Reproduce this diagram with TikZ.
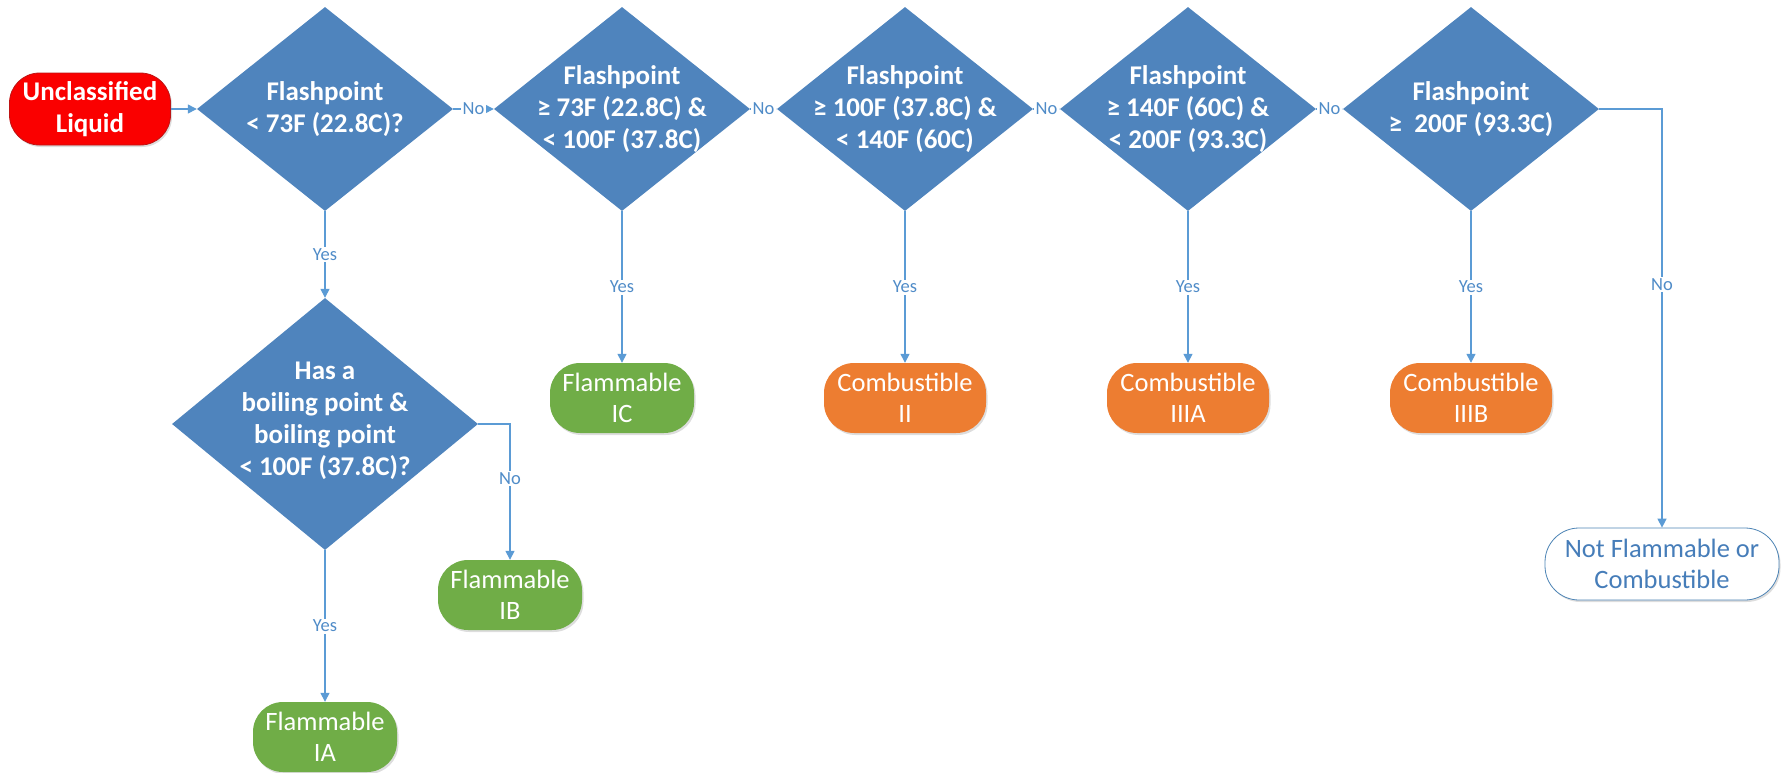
\documentclass[tikz,border=0pt]{standalone}
\usepackage{fontspec}
\setmainfont{Carlito}
\usetikzlibrary{arrows.meta,shadows,shapes.geometric}
\definecolor{diablue}{RGB}{79,132,189}
\definecolor{lineblue}{RGB}{91,155,213}
\definecolor{labblue}{RGB}{80,140,200}
\definecolor{lgreen}{RGB}{112,173,71}
\definecolor{lorange}{RGB}{237,125,49}
\definecolor{lred}{RGB}{250,0,0}
\definecolor{dred}{RGB}{190,20,20}
\definecolor{nftext}{RGB}{70,125,185}
\begin{document}
\begin{tikzpicture}[x=1pt,y=-1pt,
  dia/.style={shape=diamond, fill=diablue, inner sep=0pt, minimum width=256pt, minimum height=204pt},
  bigdia/.style={shape=diamond, fill=diablue, inner sep=0pt, minimum width=306pt, minimum height=252pt},
  dtext/.style={text=white, font=\bfseries\fontsize{27}{32}\selectfont, align=center, inner sep=0pt},
  term/.style={rounded corners=30pt, minimum height=70pt, inner sep=0pt, text=white, align=center,
    font=\fontsize{26.5}{31}\selectfont,
    drop shadow={opacity=0.22, shadow xshift=1.5pt, shadow yshift=-2pt, fill=black!60}},
  green/.style={term, fill=lgreen, minimum width=144pt},
  orange/.style={term, fill=lorange, minimum width=162pt},
  conn/.style={draw=lineblue, line width=1.4pt, -{Triangle[length=9pt,width=9pt]}},
  lab/.style={fill=white, text=labblue, font=\fontsize{18.5}{21}\selectfont, inner sep=1.5pt},
]
\useasboundingbox (0,0) rectangle (1786,772);

% start
\node[term, fill=lred, draw=dred, line width=0.8pt, minimum width=161pt, minimum height=72pt,
  font=\bfseries\fontsize{27}{32}\selectfont] (start) at (90,109) {Unclassified\\Liquid};

% decision diamonds
\node[dia] (d1) at (325,109) {};
\node[dtext] (t1) at (d1) {Flashpoint\\< 73F (22.8C)?};
\node[dia] (d2) at (622,109) {};
\node[dtext] (t2) at (d2) {Flashpoint\\≥ 73F (22.8C) \&\\< 100F (37.8C)};
\node[dia] (d3) at (905,109) {};
\node[dtext] (t3) at (d3) {Flashpoint\\≥ 100F (37.8C) \&\\< 140F (60C)};
\node[dia] (d4) at (1188,109) {};
\node[dtext] (t4) at (d4) {Flashpoint\\≥ 140F (60C) \&\\< 200F (93.3C)};
\node[dia] (d5) at (1471,109) {};
\node[dtext] (t5) at (d5) {Flashpoint\\≥~~200F (93.3C)};
\node[bigdia] (d6) at (325,424) {};
\node[dtext] (t6) at ([yshift=3pt]d6) {Has a\\boiling point \&\\boiling point\\< 100F (37.8C)?};

% results
\node[green] (ic) at (622,398) {Flammable\\IC};
\node[orange] (c2) at (905,398) {Combustible\\II};
\node[orange] (c3a) at (1188,398) {Combustible\\IIIA};
\node[orange] (c3b) at (1471,398) {Combustible\\IIIB};
\node[green] (ib) at (510,595) {Flammable\\IB};
\node[green] (ia) at (325,737) {Flammable\\IA};
\node[term, fill=white, draw=lineblue!85!black, line width=0.8pt, text=nftext,
  minimum width=234pt, minimum height=72pt, rounded corners=34pt, drop shadow={opacity=0}] (nf) at (1662,564)
  {Not Flammable or\\Combustible};

% connectors
\draw[conn] (start.east) -- (d1.west);
\draw[conn] (d1.east) -- node[lab]{No} (d2.west);
\draw[conn] (d2.east) -- node[lab]{No} (d3.west);
\draw[conn] (d3.east) -- node[lab]{No} (d4.west);
\draw[conn] (d4.east) -- node[lab]{No} (d5.west);
\draw[conn] (d5.east) -| node[lab,pos=0.71]{No} (nf.north);
\draw[conn] (d1.south) -- node[lab]{Yes} (d6.north);
\draw[conn] (d2.south) -- node[lab]{Yes} (ic.north);
\draw[conn] (d3.south) -- node[lab]{Yes} (c2.north);
\draw[conn] (d4.south) -- node[lab]{Yes} (c3a.north);
\draw[conn] (d5.south) -- node[lab]{Yes} (c3b.north);
\draw[conn] (d6.east) -| node[lab,pos=0.70]{No} (ib.north);
\draw[conn] (d6.south) -- node[lab]{Yes} (ia.north);
\end{tikzpicture}
\end{document}
